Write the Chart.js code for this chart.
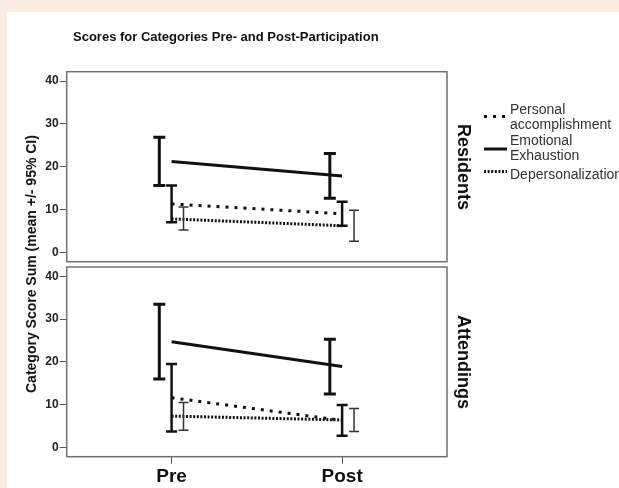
<!DOCTYPE html>
<html>
<head>
<meta charset="utf-8">
<script src="https://cdn.jsdelivr.net/npm/chart.js@4.4.1/dist/chart.umd.min.js"></script>
<style>
  html, body { margin: 0; padding: 0; background: #fcebe0; }
  #page { position: relative; width: 619px; height: 488px; overflow: hidden; }
  #sheet { position: absolute; left: 7px; top: 12px; right: 0; bottom: 0; background: #fff; }
  canvas { position: absolute; left: 0; top: 0; }
  .lbl { position: absolute; font-family: 'Liberation Sans', Arial, sans-serif; color: #111; white-space: nowrap; font-weight: bold; }
</style>
</head>
<body>
<div id="page">
  <div id="sheet"></div>
  <canvas id="residentsChart" width="619" height="488"></canvas>
  <canvas id="attendingsChart" width="619" height="488"></canvas>
  <div class="lbl" id="title" style="left:73px; top:29px; font-size:13px;">Scores for Categories Pre- and Post-Participation</div>
  <div class="lbl" id="ytitle" style="left:31px; top:264px; font-size:14px; transform:translate(-50%,-50%) rotate(-90deg);">Category Score Sum (mean +/- 95% CI)</div>
  <div class="lbl" id="panelTop" style="left:463px; top:167px; font-size:18px; transform:translate(-50%,-50%) rotate(90deg);">Residents</div>
  <div class="lbl" id="panelBottom" style="left:463px; top:362px; font-size:18px; transform:translate(-50%,-50%) rotate(90deg);">Attendings</div>
</div>
<script>
// Time points and series names
const categories = ['Pre', 'Post'];
const seriesLabels = [['Personal', 'accomplishment'], ['Emotional', 'Exhaustion'], ['Depersonalization']];
const yTicks = [0, 10, 20, 30, 40];

// Residents: mean and 95% CI bounds
const residentsPersonalMean = [11.3, 9.0];
const residentsPersonalLow = [7.0, 6.2];
const residentsPersonalHigh = [15.6, 11.8];
const residentsEmotionalMean = [21.2, 17.8];
const residentsEmotionalLow = [15.6, 12.6];
const residentsEmotionalHigh = [26.9, 23.1];
const residentsDeperMean = [7.8, 6.2];
const residentsDeperLow = [5.2, 2.6];
const residentsDeperHigh = [10.6, 9.8];

// Attendings: mean and 95% CI bounds
const attendingsPersonalMean = [11.6, 6.3];
const attendingsPersonalLow = [3.7, 2.7];
const attendingsPersonalHigh = [19.5, 9.9];
const attendingsEmotionalMean = [24.7, 18.9];
const attendingsEmotionalLow = [16.0, 12.5];
const attendingsEmotionalHigh = [33.5, 25.3];
const attendingsDeperMean = [7.3, 6.4];
const attendingsDeperLow = [4.0, 3.7];
const attendingsDeperHigh = [10.5, 9.1];

const FONT = "'Liberation Sans', Arial, sans-serif";

// line styles per series: personal, emotional, depersonalization
const styles = [
  { dash: [3, 6], width: 3, color: '#111', barWidth: 2.5, cap: 5.5, dodge: 0, barColor: '#111' },
  { dash: [], width: 3, color: '#111', barWidth: 3, cap: 6, dodge: -0.072, barColor: '#111' },
  { dash: [2, 1.6], width: 3, color: '#111', barWidth: 1.5, cap: 5, dodge: 0.07, barColor: '#333' }
];

function points(means) {
  return means.map((m, i) => ({ x: i + 1, y: m }));
}

function panelPlugin(bars) {
  return {
    id: 'panel',
    afterDatasetsDraw(chart) {
      const { ctx, chartArea: a, scales: { x, y } } = chart;
      bars.forEach((b, s) => {
        const st = styles[s];
        b.low.forEach((lo, i) => {
          const px = x.getPixelForValue(i + 1 + st.dodge);
          const pLo = y.getPixelForValue(lo);
          const pHi = y.getPixelForValue(b.high[i]);
          ctx.save();
          ctx.strokeStyle = st.barColor;
          ctx.lineWidth = st.barWidth;
          ctx.beginPath();
          ctx.moveTo(px, pLo); ctx.lineTo(px, pHi);
          ctx.moveTo(px - st.cap, pLo); ctx.lineTo(px + st.cap, pLo);
          ctx.moveTo(px - st.cap, pHi); ctx.lineTo(px + st.cap, pHi);
          ctx.stroke();
          ctx.restore();
        });
      });
      ctx.save();
      ctx.strokeStyle = '#707070';
      ctx.lineWidth = 1.5;
      ctx.strokeRect(a.left, a.top, a.right - a.left, a.bottom - a.top);
      ctx.restore();
    }
  };
}

const legendPlugin = {
  id: 'sideLegend',
  afterDraw(chart) {
    const ctx = chart.ctx;
    const x0 = 484, x1 = 507, tx = 510;
    const rows = [
      { lines: seriesLabels[0], top: 110, sample: 116.5 },
      { lines: seriesLabels[1], top: 141, sample: 149 },
      { lines: seriesLabels[2], top: 175, sample: 171.5 }
    ];
    ctx.save();
    rows.forEach((r, s) => {
      const st = styles[s];
      ctx.strokeStyle = st.color;
      ctx.lineWidth = st.width;
      ctx.setLineDash(st.dash);
      ctx.beginPath();
      ctx.moveTo(x0, r.sample); ctx.lineTo(x1, r.sample);
      ctx.stroke();
      ctx.setLineDash([]);
      ctx.fillStyle = '#333';
      ctx.font = '14px ' + FONT;
      ctx.textBaseline = 'middle';
      r.lines.forEach((t, k) => ctx.fillText(t, tx, r.top + k * 15.5));
    });
    ctx.restore();
  }
};

function makeChart(id, means, lows, highs, showX, padTop, padBottom) {
  const datasets = means.map((m, s) => ({
    data: points(m),
    borderColor: styles[s].color,
    borderWidth: styles[s].width,
    borderDash: styles[s].dash,
    pointRadius: 0,
    fill: false,
    tension: 0
  }));
  const bars = lows.map((lo, s) => ({ low: lo, high: highs[s] }));
  const plugins = [panelPlugin(bars)];
  if (!showX) plugins.push(legendPlugin);
  return new Chart(document.getElementById(id), {
    type: 'line',
    data: { datasets },
    plugins,
    options: {
      responsive: false,
      animation: false,
      devicePixelRatio: 1,
      layout: { padding: { top: padTop, left: 0, right: 172, bottom: padBottom } },
      plugins: { legend: { display: false }, tooltip: { enabled: false } },
      scales: {
        x: {
          type: 'linear',
          display: showX,
          min: 0.385,
          max: 2.615,
          afterBuildTicks: (sc) => { sc.ticks = categories.map((c, i) => ({ value: i + 1 })); },
          afterFit: (sc) => { sc.height = showX ? 31.3 : 0; },
          grid: { drawOnChartArea: false, tickLength: 7, color: '#555' },
          border: { display: false },
          ticks: {
            padding: 2,
            color: '#111',
            font: { family: FONT, size: 19, weight: 'bold' },
            callback: (v) => categories[v - 1]
          }
        },
        y: {
          min: -2.2,
          max: 42.2,
          afterBuildTicks: (sc) => { sc.ticks = yTicks.map(v => ({ value: v })); },
          afterFit: (sc) => { sc.width = 66.7; },
          grid: { drawOnChartArea: false, tickLength: 7, color: '#555' },
          border: { display: false },
          ticks: {
            padding: 1,
            color: '#222',
            font: { family: FONT, size: 12, weight: 'bold' }
          }
        }
      }
    }
  });
}

makeChart('residentsChart',
  [residentsPersonalMean, residentsEmotionalMean, residentsDeperMean],
  [residentsPersonalLow, residentsEmotionalLow, residentsDeperLow],
  [residentsPersonalHigh, residentsEmotionalHigh, residentsDeperHigh],
  false, 71.7, 226.3);

makeChart('attendingsChart',
  [attendingsPersonalMean, attendingsEmotionalMean, attendingsDeperMean],
  [attendingsPersonalLow, attendingsEmotionalLow, attendingsDeperLow],
  [attendingsPersonalHigh, attendingsEmotionalHigh, attendingsDeperHigh],
  true, 267, 0);
</script>
</body>
</html>
